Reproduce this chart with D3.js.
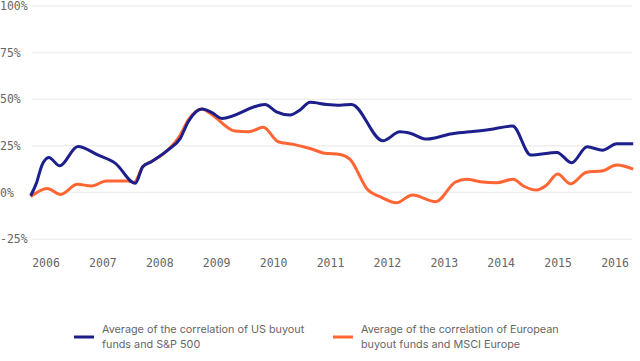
<!DOCTYPE html>
<html>
<head>
<meta charset="utf-8">
<script src="https://cdn.jsdelivr.net/npm/d3@7"></script>
<style>
  body { margin: 0; background: #fff; }
  svg { display: block; }
</style>
</head>
<body>
<div id="chart"></div>
<script>
// values (fractional year, correlation in %)
let usYears = [2005.73, 2005.83, 2005.93, 2006.05, 2006.24, 2006.56, 2006.91, 2007.22, 2007.57, 2007.70,
  2007.85, 2008.14, 2008.36, 2008.50, 2008.74, 2008.91, 2009.09, 2009.85, 2010.05, 2010.29,
  2010.46, 2010.64, 2010.93, 2011.17, 2011.37, 2011.92, 2012.22, 2012.40, 2012.69, 2012.87,
  2013.10, 2013.45, 2013.80, 2014.20, 2014.52, 2014.98, 2015.24, 2015.51, 2015.78, 2016.03, 2016.32]
let usValues = [-1.7, 4.9, 14.7, 18.8, 14.3, 24.7, 20.1, 15.6, 4.9, 13.8,
  16.5, 22.7, 29.0, 37.9, 44.7, 42.9, 39.7, 47.2, 43.2, 41.5,
  44.1, 48.3, 47.2, 46.8, 47.2, 27.7, 32.5, 31.7, 28.6, 29.5,
  31.3, 32.5, 33.8, 35.6, 20.1, 21.5, 15.9, 24.5, 22.7, 26.1, 26.1]

let euYears = [2005.73, 2006.02, 2006.26, 2006.55, 2006.80, 2007.06, 2007.44, 2007.55, 2007.70, 2007.85,
  2008.14, 2008.36, 2008.50, 2008.74, 2008.94, 2009.32, 2009.56, 2009.82, 2010.08, 2010.35,
  2010.64, 2010.90, 2011.17, 2011.34, 2011.66, 2011.87, 2012.16, 2012.44, 2012.85, 2013.19,
  2013.39, 2013.63, 2013.92, 2014.21, 2014.39, 2014.62, 2014.80, 2014.99, 2015.22, 2015.50,
  2015.77, 2016.03, 2016.32]
let euValues = [-2.2, 2.2, -1.0, 4.4, 3.5, 6.2, 6.2, 5.5, 13.8, 16.5,
  22.7, 30.8, 38.8, 44.7, 41.1, 32.9, 32.5, 34.9, 27.2, 25.8,
  23.6, 21.0, 20.4, 17.9, 1.3, -2.2, -5.5, -1.3, -4.9, 5.5,
  7.1, 5.8, 5.2, 7.1, 3.5, 1.3, 4.0, 9.9, 4.7, 10.9,
  11.5, 14.7, 12.5]

let yTicks = [-25, 0, 25, 50, 75, 100]
let xTicks = [2006, 2007, 2008, 2009, 2010, 2011, 2012, 2013, 2014, 2015, 2016]

let legendLabels = [
  ["Average of the correlation of US buyout", "funds and S&P 500"],
  ["Average of the correlation of European", "buyout funds and MSCI Europe"]
]
let colors = ["#1c1f8c", "#ff6633"]

let width = 640
    height = 361

let svg = d3.select("#chart")
  .append("svg")
  .attr("width", width)
  .attr("height", height)

let x = d3.scaleLinear()
  .domain([2006, 2016])
  .range([46, 615])

let y = d3.scaleLinear()
  .domain([-25, 100])
  .range([239.2, 5.8])

// gridlines
svg.append("g")
  .selectAll("line")
  .data(yTicks)
  .enter()
  .append("line")
  .attr("x1", 32)
  .attr("x2", 632)
  .attr("y1", d => y(d))
  .attr("y2", d => y(d))
  .attr("stroke", "#efefef")
  .attr("stroke-width", 1.5)

// y labels
svg.append("g")
  .selectAll("text")
  .data(yTicks)
  .enter()
  .append("text")
  .attr("x", 0)
  .attr("y", d => y(d))
  .attr("dy", "0.35em")
  .text(d => d + "%")
  .style("font-family", "DejaVu Sans Mono")
  .style("font-size", "11.5px")
  .style("fill", "#666")

// x labels
svg.append("g")
  .selectAll("text")
  .data(xTicks)
  .enter()
  .append("text")
  .attr("x", d => x(d))
  .attr("y", 263)
  .attr("dy", "0.35em")
  .attr("text-anchor", "middle")
  .text(d => d)
  .style("font-family", "DejaVu Sans Mono")
  .style("font-size", "11.5px")
  .style("fill", "#666")

let line = d3.line()
  .x(d => x(d[0]))
  .y(d => y(d[1]))
  .curve(d3.curveMonotoneX)

let series = [
  d3.zip(usYears, usValues),
  d3.zip(euYears, euValues)
]

// draw orange first so blue sits on top where they overlap early on
svg.append("path")
  .datum(series[1])
  .attr("d", line)
  .attr("fill", "none")
  .attr("stroke", colors[1])
  .attr("stroke-width", 3)
  .attr("stroke-linejoin", "round")

svg.append("path")
  .datum(series[0])
  .attr("d", line)
  .attr("fill", "none")
  .attr("stroke", colors[0])
  .attr("stroke-width", 3)
  .attr("stroke-linejoin", "round")

// legend
let legendX = [74, 333]
let legend = svg.append("g")
  .selectAll("g")
  .data(legendLabels)
  .enter()
  .append("g")
  .attr("transform", (d, i) => "translate(" + legendX[i] + ",0)")

legend.append("rect")
  .attr("x", 0)
  .attr("y", 335.5)
  .attr("width", 20)
  .attr("height", 3)
  .attr("fill", (d, i) => colors[i])

legend.each(function(d) {
  let g = d3.select(this)
  d.forEach((t, j) => {
    g.append("text")
      .attr("x", 28)
      .attr("y", 329 + j * 15.5)
      .attr("dy", "0.35em")
      .text(t)
      .style("font-family", "Inter")
      .style("font-size", "10.8px")
      .style("fill", "#666")
  })
})
</script>
</body>
</html>
